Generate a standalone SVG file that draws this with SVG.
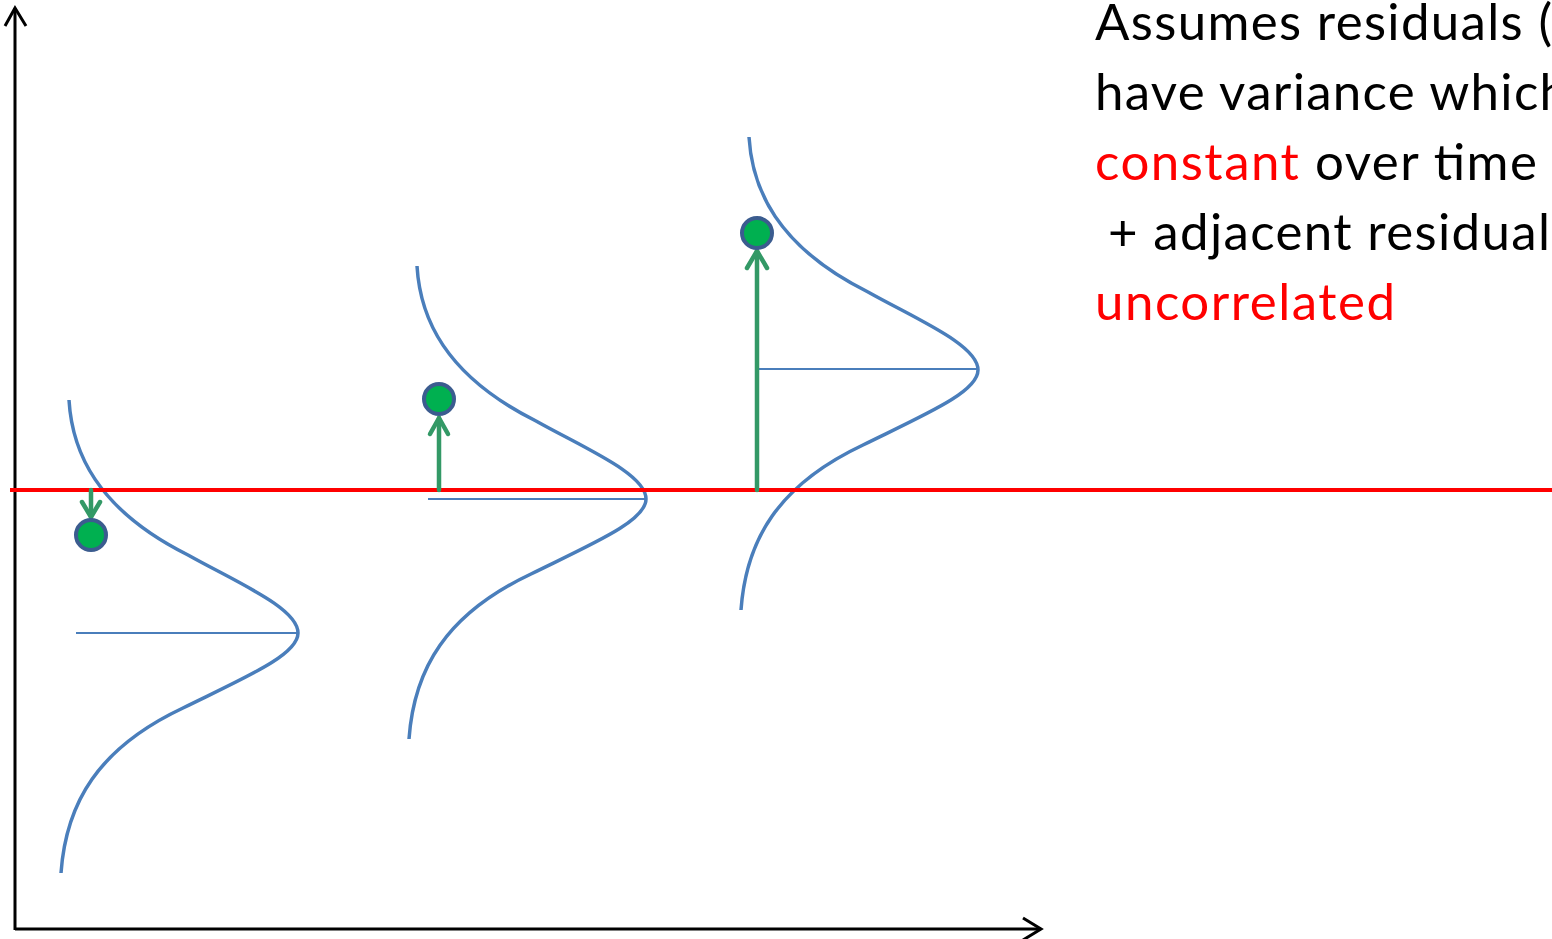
<svg xmlns="http://www.w3.org/2000/svg" width="1552" height="939" viewBox="0 0 1552 939">
  <defs>
    <style>
      .axis { stroke: #000; stroke-width: 3; fill: none; }
      .bell { stroke: #4a7ebb; stroke-width: 3.5; fill: none; }
      .mean { stroke: #4a7ebb; stroke-width: 2; }
      .base { stroke: #ff0000; stroke-width: 4; }
      .res { stroke: #339966; stroke-width: 4.5; fill: none; stroke-linecap: round; stroke-linejoin: round; }
      .dot { fill: #00b050; stroke: #3b5c8f; stroke-width: 4; }
      .txt { font-family: Lato, "Open Sans", sans-serif; font-size: 51px; fill: #000; }
      .red { fill: #ff0000; }
    </style>
    <path id="bellShape" d="M -229,-233 C -226,-182 -202,-124 -110,-78 C -60,-50 0,-25 0,0 C 0,22 -52,44 -115,75 C -200,115 -232,170 -237,240"/>
  </defs>

  <g id="axes">
    <path class="axis" d="M 15,930 L 15,8"/>
    <path class="axis" d="M 5,26 L 15,8 L 26,26"/>
    <path class="axis" d="M 15,929 L 1041,929"/>
    <path class="axis" d="M 1023,918 L 1041,929 L 1023,940"/>
  </g>

  <g id="dist1">
    <use href="#bellShape" class="bell" transform="translate(298,633)"/>
    <line class="mean" x1="76" y1="633" x2="298" y2="633"/>
  </g>
  <g id="dist2">
    <use href="#bellShape" class="bell" transform="translate(646,499)"/>
    <line class="mean" x1="428" y1="499" x2="646" y2="499"/>
  </g>
  <g id="dist3">
    <use href="#bellShape" class="bell" transform="translate(978,370)"/>
    <line class="mean" x1="758" y1="369" x2="977" y2="369"/>
  </g>

  <g id="baseline">
    <line class="base" x1="10" y1="490" x2="1552" y2="490"/>
  </g>

  <g id="connectors">
    <path class="res" d="M 91,490 L 91,517"/>
    <path class="res" d="M 82,502 L 91,517 L 100,502"/>
    <path class="res" d="M 439,490 L 439,418"/>
    <path class="res" d="M 430,434 L 439,418 L 448,434"/>
    <path class="res" d="M 757,490 L 757,251"/>
    <path class="res" d="M 747,268 L 757,251 L 767,268"/>
  </g>

  <g id="point1"><circle class="dot" cx="91" cy="535" r="15"/></g>
  <g id="point2"><circle class="dot" cx="439" cy="399" r="15"/></g>
  <g id="point3"><circle class="dot" cx="757" cy="233" r="15"/></g>

  <g id="caption" class="txt">
    <text x="1095" y="40" textLength="457" lengthAdjust="spacing">Assumes residuals (</text>
    <text x="1095" y="110" textLength="473" lengthAdjust="spacing">have variance which</text>
    <text x="1095" y="180" textLength="442" lengthAdjust="spacing"><tspan class="red">constant</tspan> over time</text>
    <text x="1108" y="250" textLength="442" lengthAdjust="spacing">+ adjacent residual</text>
    <text x="1095" y="320" class="red" textLength="300" lengthAdjust="spacing">uncorrelated</text>
  </g>
</svg>
